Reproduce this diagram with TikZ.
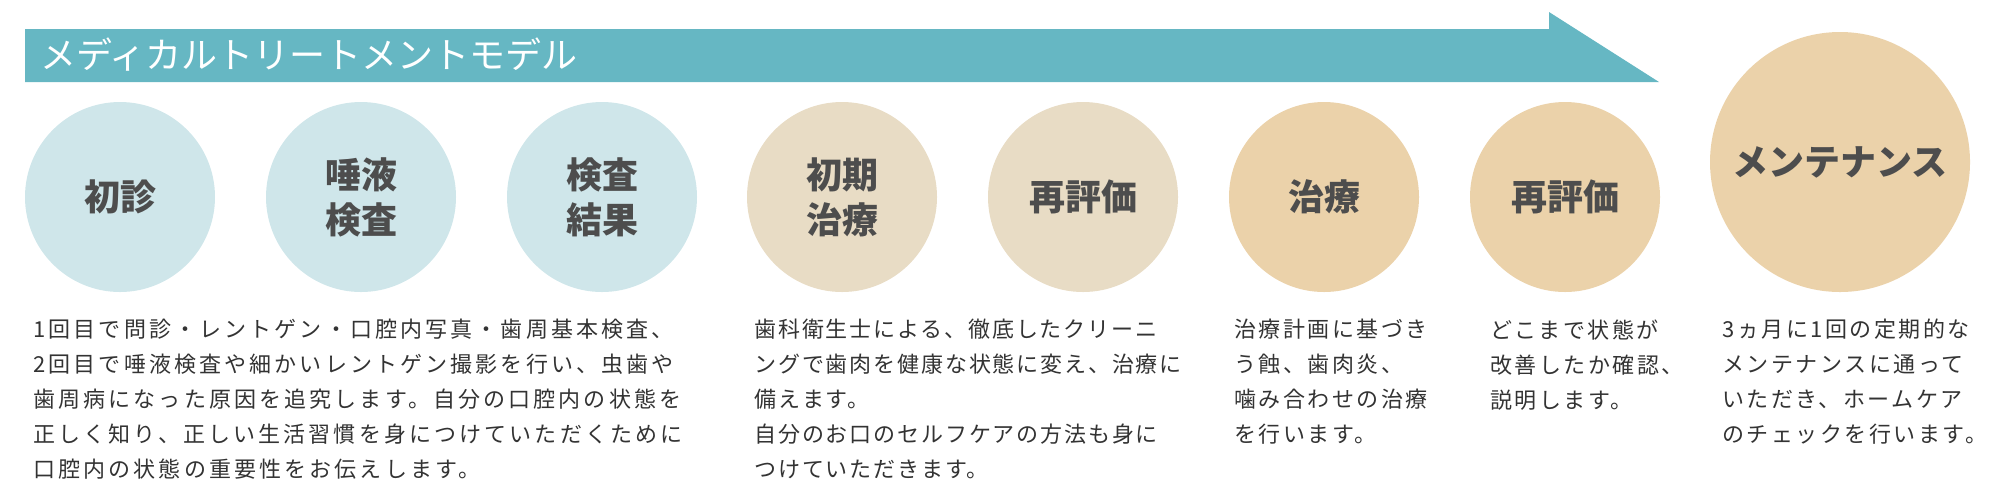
\documentclass[tikz,border=0pt]{standalone}
\usepackage{fontspec}
\newfontfamily\jpfont{Noto Sans CJK JP}
\newfontfamily\jpbody{Noto Sans CJK JP}[LetterSpace=11.4]
\newfontfamily\jpbodywide{Noto Sans CJK JP}[LetterSpace=14.2]
\newfontfamily\jpbodynarrow{Noto Sans CJK JP}[LetterSpace=8.4]
\definecolor{barteal}{HTML}{66B7C3}
\definecolor{pblue}{HTML}{CFE6EA}
\definecolor{pbeige}{HTML}{E8DCC5}
\definecolor{ptan}{HTML}{EBD2AA}
\definecolor{labelgray}{HTML}{4D4D4D}
\definecolor{bodygray}{HTML}{333333}
\newcommand\lblfont{\jpfont\bfseries\fontsize{18pt}{22.5pt}\selectfont}
\newcommand\bdyfont{\jpbody\fontsize{11pt}{17.5pt}\selectfont}
\newcommand\bdyfontwide{\jpbodywide\fontsize{11pt}{17.5pt}\selectfont}
\newcommand\bdyfontnarrow{\jpbodynarrow\fontsize{11pt}{17.5pt}\selectfont}
\newcommand\ttlfont{\jpfont\fontsize{18pt}{22pt}\selectfont}
\begin{document}
\begin{tikzpicture}[x=0.5pt,y=-0.5pt,
  bubble/.style={circle, inner sep=0pt, minimum size=95pt, text=labelgray, font=\lblfont, align=center},
  bigbubble/.style={bubble, minimum size=130pt},
  bodytext/.style={anchor=north west, inner sep=0pt, align=left, text=bodygray, font=\bdyfont}]
\useasboundingbox (0,0) rectangle (2000,500);
% banner arrow
\fill[barteal] (25,29) -- (1549,29) -- (1549,12) -- (1659,82) -- (25,82) -- cycle;
\node[anchor=west, inner sep=0pt, text=white, font=\ttlfont] (title) at (40,55) {メディカルトリートメントモデル};
% circles
\node[bubble, fill=pblue] (c1) at (120,197) {初診};
\node[bubble, fill=pblue] (c2) at (361,197) {唾液\\検査};
\node[bubble, fill=pblue] (c3) at (602,197) {検査\\結果};
\node[bubble, fill=pbeige] (c4) at (842,197) {初期\\治療};
\node[bubble, fill=pbeige] (c5) at (1083,197) {再評価};
\node[bubble, fill=ptan] (c6) at (1324,197) {治療};
\node[bubble, fill=ptan] (c7) at (1565,197) {再評価};
\node[bigbubble, fill=ptan] (c8) at (1840,162) {メンテナンス};
% descriptions
\node[bodytext, font=\bdyfontwide] (t1) at (33,319) {1回目で問診・レントゲン・口腔内写真・歯周基本検査、\\2回目で唾液検査や細かいレントゲン撮影を行い、虫歯や\\歯周病になった原因を追究します。自分の口腔内の状態を\\正しく知り、正しい生活習慣を身につけていただくために\\口腔内の状態の重要性をお伝えします。};
\node[bodytext, font=\bdyfontnarrow] (t2) at (754,319) {歯科衛生士による、徹底したクリーニ\\ングで歯肉を健康な状態に変え、治療に\\備えます。\\自分のお口のセルフケアの方法も身に\\つけていただきます。};
\node[bodytext] (t3) at (1234,319) {治療計画に基づき\\う蝕、歯肉炎、\\噛み合わせの治療\\を行います。};
\node[bodytext] (t4) at (1490,319) {どこまで状態が\\改善したか確認、\\説明します。};
\node[bodytext] (t5) at (1722,319) {3ヵ月に1回の定期的な\\メンテナンスに通って\\いただき、ホームケア\\のチェックを行います。};
\end{tikzpicture}
\end{document}
